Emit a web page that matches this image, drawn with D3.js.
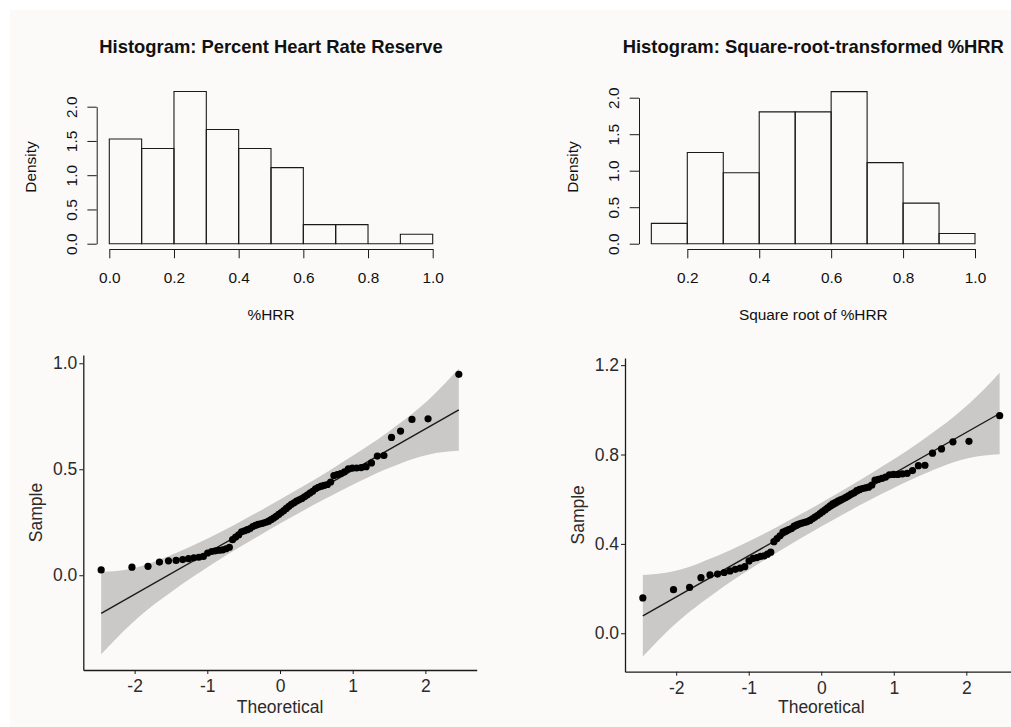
<!DOCTYPE html>
<html>
<head>
<meta charset="utf-8">
<script src="https://cdn.jsdelivr.net/npm/d3@7"></script>
<style>
  body { margin: 0; background: #fff; }
  svg { display: block; font-family: "Liberation Sans", Arial, sans-serif; }
</style>
</head>
<body>
<svg width="1011" height="727"></svg>
<script>
// histogram 1: %HRR, density per bin
const hrrBreaks = [0, 0.1, 0.2, 0.3, 0.4, 0.5, 0.6, 0.7, 0.8, 0.9, 1.0];
const hrrDensity = [1.528, 1.389, 2.222, 1.667, 1.389, 1.111, 0.278, 0.278, 0, 0.139];
const hrrTicksX = [0, 0.2, 0.4, 0.6, 0.8, 1.0];

// histogram 2: square root of %HRR
const sqrtBreaks = [0.1, 0.2, 0.3, 0.4, 0.5, 0.6, 0.7, 0.8, 0.9, 1.0];
const sqrtDensity = [0.278, 1.25, 0.972, 1.806, 1.806, 2.083, 1.111, 0.556, 0.139];
const sqrtTicksX = [0.2, 0.4, 0.6, 0.8, 1.0];

const densityTicks = [0, 0.5, 1.0, 1.5, 2.0];

// Q-Q plots: sorted sample values
const hrrSample = [
  0.025, 0.038, 0.042, 0.062, 0.068, 0.070, 0.074, 0.078, 0.082, 0.085, 0.089,
  0.105, 0.112, 0.115, 0.118, 0.120, 0.125, 0.132, 0.168, 0.180, 0.190,
  0.205, 0.210, 0.215, 0.220, 0.230, 0.235, 0.240, 0.243, 0.246, 0.250,
  0.255, 0.262, 0.270, 0.278, 0.287, 0.296,
  0.305, 0.315, 0.325, 0.335, 0.342, 0.350, 0.356,
  0.362, 0.370, 0.378, 0.388, 0.396,
  0.408, 0.415, 0.420, 0.424, 0.428, 0.440, 0.470, 0.475, 0.480, 0.488,
  0.502, 0.505, 0.506, 0.508, 0.512, 0.530, 0.562, 0.565,
  0.650, 0.680, 0.735, 0.738, 0.948
];
const sqrtSample = [
  0.158, 0.195, 0.205, 0.249, 0.261, 0.265, 0.272, 0.279, 0.286, 0.292, 0.298,
  0.324, 0.335, 0.339, 0.344, 0.346, 0.354, 0.363, 0.410, 0.424, 0.436,
  0.453, 0.458, 0.464, 0.469, 0.480, 0.485, 0.490, 0.493, 0.496, 0.500,
  0.505, 0.512, 0.520, 0.527, 0.536, 0.544,
  0.552, 0.561, 0.570, 0.579, 0.585, 0.592, 0.597,
  0.602, 0.608, 0.615, 0.623, 0.629,
  0.639, 0.644, 0.648, 0.651, 0.654, 0.663, 0.686, 0.689, 0.693, 0.699,
  0.709, 0.711, 0.711, 0.713, 0.716, 0.728, 0.750, 0.752,
  0.806, 0.825, 0.857, 0.859, 0.974
];

// reference line [intercept, slope]
const hrrQqLine = [0.300, 0.195];
const sqrtQqLine = [0.531, 0.184];

// confidence band edges at theoretical positions
const bandZ = [-2.46, -2.037, -1.815, -1.658, -1.534, -1.43, -1.258, -1.054, -0.837, -0.61, -0.299, 0,
  0.299, 0.61, 0.837, 1.054, 1.258, 1.43, 1.534, 1.658, 1.815, 2.037, 2.46];
const hrrBandLo = [-0.373, -0.226, -0.161, -0.119, -0.088, -0.062, -0.021, 0.025, 0.073, 0.121, 0.184, 0.244,
  0.301, 0.359, 0.399, 0.436, 0.469, 0.496, 0.511, 0.527, 0.547, 0.569, 0.587];
const hrrBandHi = [0.016, 0.031, 0.053, 0.073, 0.090, 0.105, 0.131, 0.164, 0.201, 0.241, 0.299, 0.357,
  0.416, 0.479, 0.528, 0.575, 0.621, 0.662, 0.688, 0.719, 0.761, 0.826, 0.975];
const sqrtBandLo = [-0.104, 0.035, 0.096, 0.136, 0.165, 0.189, 0.228, 0.272, 0.317, 0.362, 0.422, 0.478,
  0.532, 0.586, 0.624, 0.659, 0.691, 0.715, 0.730, 0.745, 0.764, 0.784, 0.801];
const sqrtBandHi = [0.261, 0.278, 0.298, 0.317, 0.333, 0.347, 0.372, 0.403, 0.438, 0.476, 0.530, 0.584,
  0.640, 0.700, 0.746, 0.790, 0.834, 0.873, 0.897, 0.926, 0.966, 1.027, 1.166];

const qqTicksX = [-2, -1, 0, 1, 2];
const hrrQqTicksY = [0, 0.5, 1.0];
const sqrtQqTicksY = [0, 0.4, 0.8, 1.2];

// normal quantile (Acklam) for the theoretical axis
function qnorm(p) {
  const a = [-39.69683028665376, 220.9460984245205, -275.9285104469687, 138.3577518672690, -30.66479806614716, 2.506628277459239];
  const b = [-54.47609879822406, 161.5858368580409, -155.6989798598866, 66.80131188771972, -13.28068155288572];
  const c = [-0.007784894002430293, -0.3223964580411365, -2.400758277161838, -2.549732539343734, 4.374664141464968, 2.938163982698783];
  const d = [0.007784695709041462, 0.3224671290700398, 2.445134137142996, 3.754408661907416];
  const tail = q => (((((c[0]*q+c[1])*q+c[2])*q+c[3])*q+c[4])*q+c[5]) / ((((d[0]*q+d[1])*q+d[2])*q+d[3])*q+1);
  if (p < 0.02425) return tail(Math.sqrt(-2 * Math.log(p)));
  if (p > 0.97575) return -tail(Math.sqrt(-2 * Math.log(1 - p)));
  const q = p - 0.5, r = q * q;
  return (((((a[0]*r+a[1])*r+a[2])*r+a[3])*r+a[4])*r+a[5])*q / (((((b[0]*r+b[1])*r+b[2])*r+b[3])*r+b[4])*r+1);
}

const svg = d3.select("svg");

svg.append("rect")
  .attr("x", 10).attr("y", 10)
  .attr("width", 1001).attr("height", 717)
  .attr("fill", "#fcfaf9");

const ink = "#1a1a1a";

function styleAxis(ax, size, color) {
  ax.attr("font-size", null).attr("font-family", null);
  ax.select(".domain").attr("stroke", ink);
  ax.selectAll(".tick line").attr("stroke", ink);
  ax.selectAll(".tick text").attr("fill", color).style("font-size", size + "px");
}

function drawHist(o) {
  const g = svg.append("g");
  const x = d3.scaleLinear().domain(o.xDomain).range(o.xRange);
  const y = d3.scaleLinear().domain([0, 2]).range(o.yRange);

  g.append("g")
    .selectAll("path")
    .data(o.density)
    .join("path")
    .attr("d", (d, i) => `M${x(o.breaks[i])},${y(0)}V${y(d)}H${x(o.breaks[i + 1])}V${y(0)}Z`)
    .attr("fill", "none")
    .attr("stroke", ink)
    .attr("stroke-width", 1.1);

  const ax = g.append("g")
    .attr("transform", `translate(0,${o.xAxisY})`)
    .call(d3.axisBottom(x).tickValues(o.xTicks).tickFormat(d3.format(".1f")).tickSize(9.3).tickSizeOuter(0));
  styleAxis(ax, 15.4, "#111");
  ax.selectAll(".tick text").attr("y", 34.3).attr("dy", 0);

  const ay = g.append("g")
    .attr("transform", `translate(${o.yAxisX},0)`)
    .call(d3.axisLeft(y).tickValues(densityTicks).tickFormat(d3.format(".1f")).tickSize(9.3).tickSizeOuter(0));
  styleAxis(ay, 15.4, "#111");
  ay.selectAll(".tick text")
    .attr("x", 0).attr("y", -20).attr("dy", 0)
    .attr("text-anchor", "middle")
    .attr("transform", "rotate(-90)");

  g.append("text")
    .attr("x", o.cx).attr("y", 53.3)
    .attr("text-anchor", "middle")
    .attr("font-weight", "bold")
    .attr("font-size", 18.4)
    .attr("fill", "#111")
    .text(o.title);

  g.append("text")
    .attr("transform", `translate(${o.yLabelX},167) rotate(-90)`)
    .attr("text-anchor", "middle")
    .attr("font-size", 15.4)
    .attr("fill", "#111")
    .text("Density");

  g.append("text")
    .attr("x", o.cx).attr("y", 320)
    .attr("text-anchor", "middle")
    .attr("font-size", 15.4)
    .attr("fill", "#111")
    .text(o.xLabel);
}

function drawQQ(o) {
  const g = svg.append("g");
  const x = d3.scaleLinear().domain([-2.706, 2.706]).range(o.xRange);
  const y = d3.scaleLinear().domain(o.yDomain).range(o.yRange);
  const n = o.sample.length;
  const pts = o.sample.map((v, i) => [qnorm((i + 0.5) / n), v]);

  const area = d3.area()
    .x((d, i) => x(bandZ[i]))
    .y0((d, i) => y(o.bandLo[i]))
    .y1((d, i) => y(o.bandHi[i]))
    .curve(d3.curveMonotoneX);
  g.append("path")
    .datum(bandZ)
    .attr("d", area)
    .attr("fill", "#cbc8c8");

  const z0 = pts[0][0], z1 = pts[n - 1][0];
  g.append("line")
    .attr("x1", x(z0)).attr("y1", y(o.line[0] + o.line[1] * z0))
    .attr("x2", x(z1)).attr("y2", y(o.line[0] + o.line[1] * z1))
    .attr("stroke", ink)
    .attr("stroke-width", 1.4);

  g.append("g")
    .selectAll("circle")
    .data(pts)
    .join("circle")
    .attr("cx", d => x(d[0]))
    .attr("cy", d => y(d[1]))
    .attr("r", 3.6)
    .attr("fill", "#000");

  const ax = g.append("g")
    .attr("transform", `translate(0,${o.yRange[0]})`)
    .call(d3.axisBottom(x).tickValues(qqTicksX).tickFormat(d => String(d)).tickSize(4).tickSizeOuter(0));
  styleAxis(ax, 17.5, "#2b2b2b");
  ax.select(".domain").attr("stroke-width", 1.3);
  ax.selectAll(".tick text").attr("y", 22).attr("dy", 0);

  const ay = g.append("g")
    .attr("transform", `translate(${o.xRange[0]},0)`)
    .call(d3.axisLeft(y).tickValues(o.yTicks).tickFormat(d3.format(".1f")).tickSize(4).tickPadding(2).tickSizeOuter(0));
  styleAxis(ay, 17.5, "#2b2b2b");
  ay.select(".domain").attr("stroke-width", 1.3);

  g.append("text")
    .attr("x", x(0)).attr("y", 713.3)
    .attr("text-anchor", "middle")
    .attr("font-size", 17.5)
    .attr("fill", "#2b2b2b")
    .text("Theoretical");

  g.append("text")
    .attr("transform", `translate(${o.yLabelX},${(o.yRange[0] + o.yRange[1]) / 2}) rotate(-90)`)
    .attr("text-anchor", "middle")
    .attr("font-size", 17.5)
    .attr("fill", "#2b2b2b")
    .text("Sample");
}

drawHist({
  breaks: hrrBreaks, density: hrrDensity, xTicks: hrrTicksX,
  xDomain: [0, 1], xRange: [109.3, 432.7], yRange: [243.7, 106.7],
  xAxisY: 249, yAxisX: 96.7, cx: 271, yLabelX: 35.5,
  title: "Histogram: Percent Heart Rate Reserve", xLabel: "%HRR"
});

drawHist({
  breaks: sqrtBreaks, density: sqrtDensity, xTicks: sqrtTicksX,
  xDomain: [0.2, 1], xRange: [687.3, 975], yRange: [243.7, 97.7],
  xAxisY: 249, yAxisX: 639, cx: 813.3, yLabelX: 578,
  title: "Histogram: Square-root-transformed %HRR", xLabel: "Square root of %HRR"
});

drawQQ({
  sample: hrrSample, line: hrrQqLine, bandLo: hrrBandLo, bandHi: hrrBandHi,
  xRange: [83.3, 476.7], yDomain: [-0.447, 1.039], yRange: [670, 355],
  yTicks: hrrQqTicksY, yLabelX: 42
});

drawQQ({
  sample: sqrtSample, line: sqrtQqLine, bandLo: sqrtBandLo, bandHi: sqrtBandHi,
  xRange: [625, 1017.5], yDomain: [-0.172, 1.232], yRange: [671.7, 358],
  yTicks: sqrtQqTicksY, yLabelX: 584
});
</script>
</body>
</html>
